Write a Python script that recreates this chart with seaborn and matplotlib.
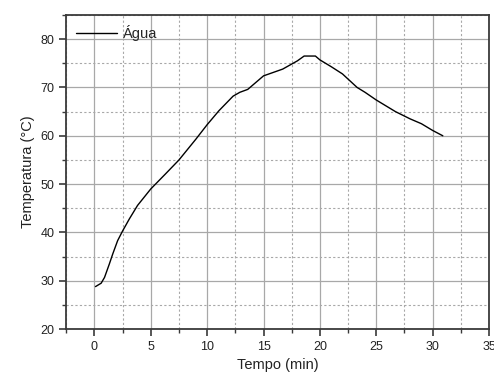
import numpy as np
import pandas as pd
import matplotlib
matplotlib.use("Agg")
import matplotlib.pyplot as plt
from matplotlib.ticker import MultipleLocator
import seaborn as sns

# valores
tempo = [0.1, 0.6, 0.9, 1.33, 1.62, 2.06, 2.5, 3.1, 3.83, 5.0, 6.3, 7.5,
         9.0, 10.0, 11.05, 12.3, 12.9, 13.6, 15.0, 16.7, 18.0, 18.6, 19.6,
         20.0, 21.0, 22.0, 23.3, 24.0, 25.0, 26.7, 28.0, 29.0, 30.0, 30.9]
temperatura = [28.8, 29.5, 30.7, 33.5, 35.5, 38.3, 40.3, 42.8, 45.6, 49.0, 52.1,
               55.0, 59.3, 62.3, 65.2, 68.2, 69.0, 69.6, 72.4, 73.8, 75.5, 76.5,
               76.5, 75.7, 74.3, 72.8, 70.0, 69.0, 67.4, 65.0, 63.5, 62.5, 61.1,
               60.0]

df = pd.DataFrame({'Tempo': tempo, 'Temp': temperatura})

sns.set_style("ticks")
plt.rcParams['font.family'] = ['Liberation Sans', 'DejaVu Sans']

fig = plt.figure(figsize=(4.94, 3.74), dpi=100)
ax = fig.add_axes([0.134, 0.120, 0.856, 0.840])

sns.lineplot(data=df, x='Tempo', y='Temp', sort=False, color='black',
             linewidth=1.0, label='Água', ax=ax)

ax.set_xlim(-2.5, 35)
ax.set_ylim(20, 85)
ax.xaxis.set_major_locator(MultipleLocator(5))
ax.xaxis.set_minor_locator(MultipleLocator(2.5))
ax.yaxis.set_major_locator(MultipleLocator(10))
ax.yaxis.set_minor_locator(MultipleLocator(5))

ax.grid(which='major', color='#a8a8a8', linestyle='-', linewidth=0.9)
ax.grid(which='minor', color='#a8a8a8', linestyle=(0, (2, 2)), linewidth=0.8)
ax.set_axisbelow(True)

for s in ax.spines.values():
    s.set_color('#3a3a3a')
    s.set_linewidth(1.3)

ax.tick_params(which='major', direction='out', length=5, width=1.2,
               color='#3a3a3a', labelsize=9, labelcolor='#222222')
ax.tick_params(which='minor', direction='out', length=3, width=1.0,
               color='#3a3a3a')

ax.set_xlabel('Tempo (min)', fontsize=10.5, color='#222222')
ax.set_ylabel('Temperatura (°C)', fontsize=10.5, color='#222222')

ax.legend(loc='upper left', frameon=False, fontsize=10.5, handlelength=2.8,
          borderaxespad=0.3, handletextpad=0.4)

fig.savefig('out.png', dpi=100)
